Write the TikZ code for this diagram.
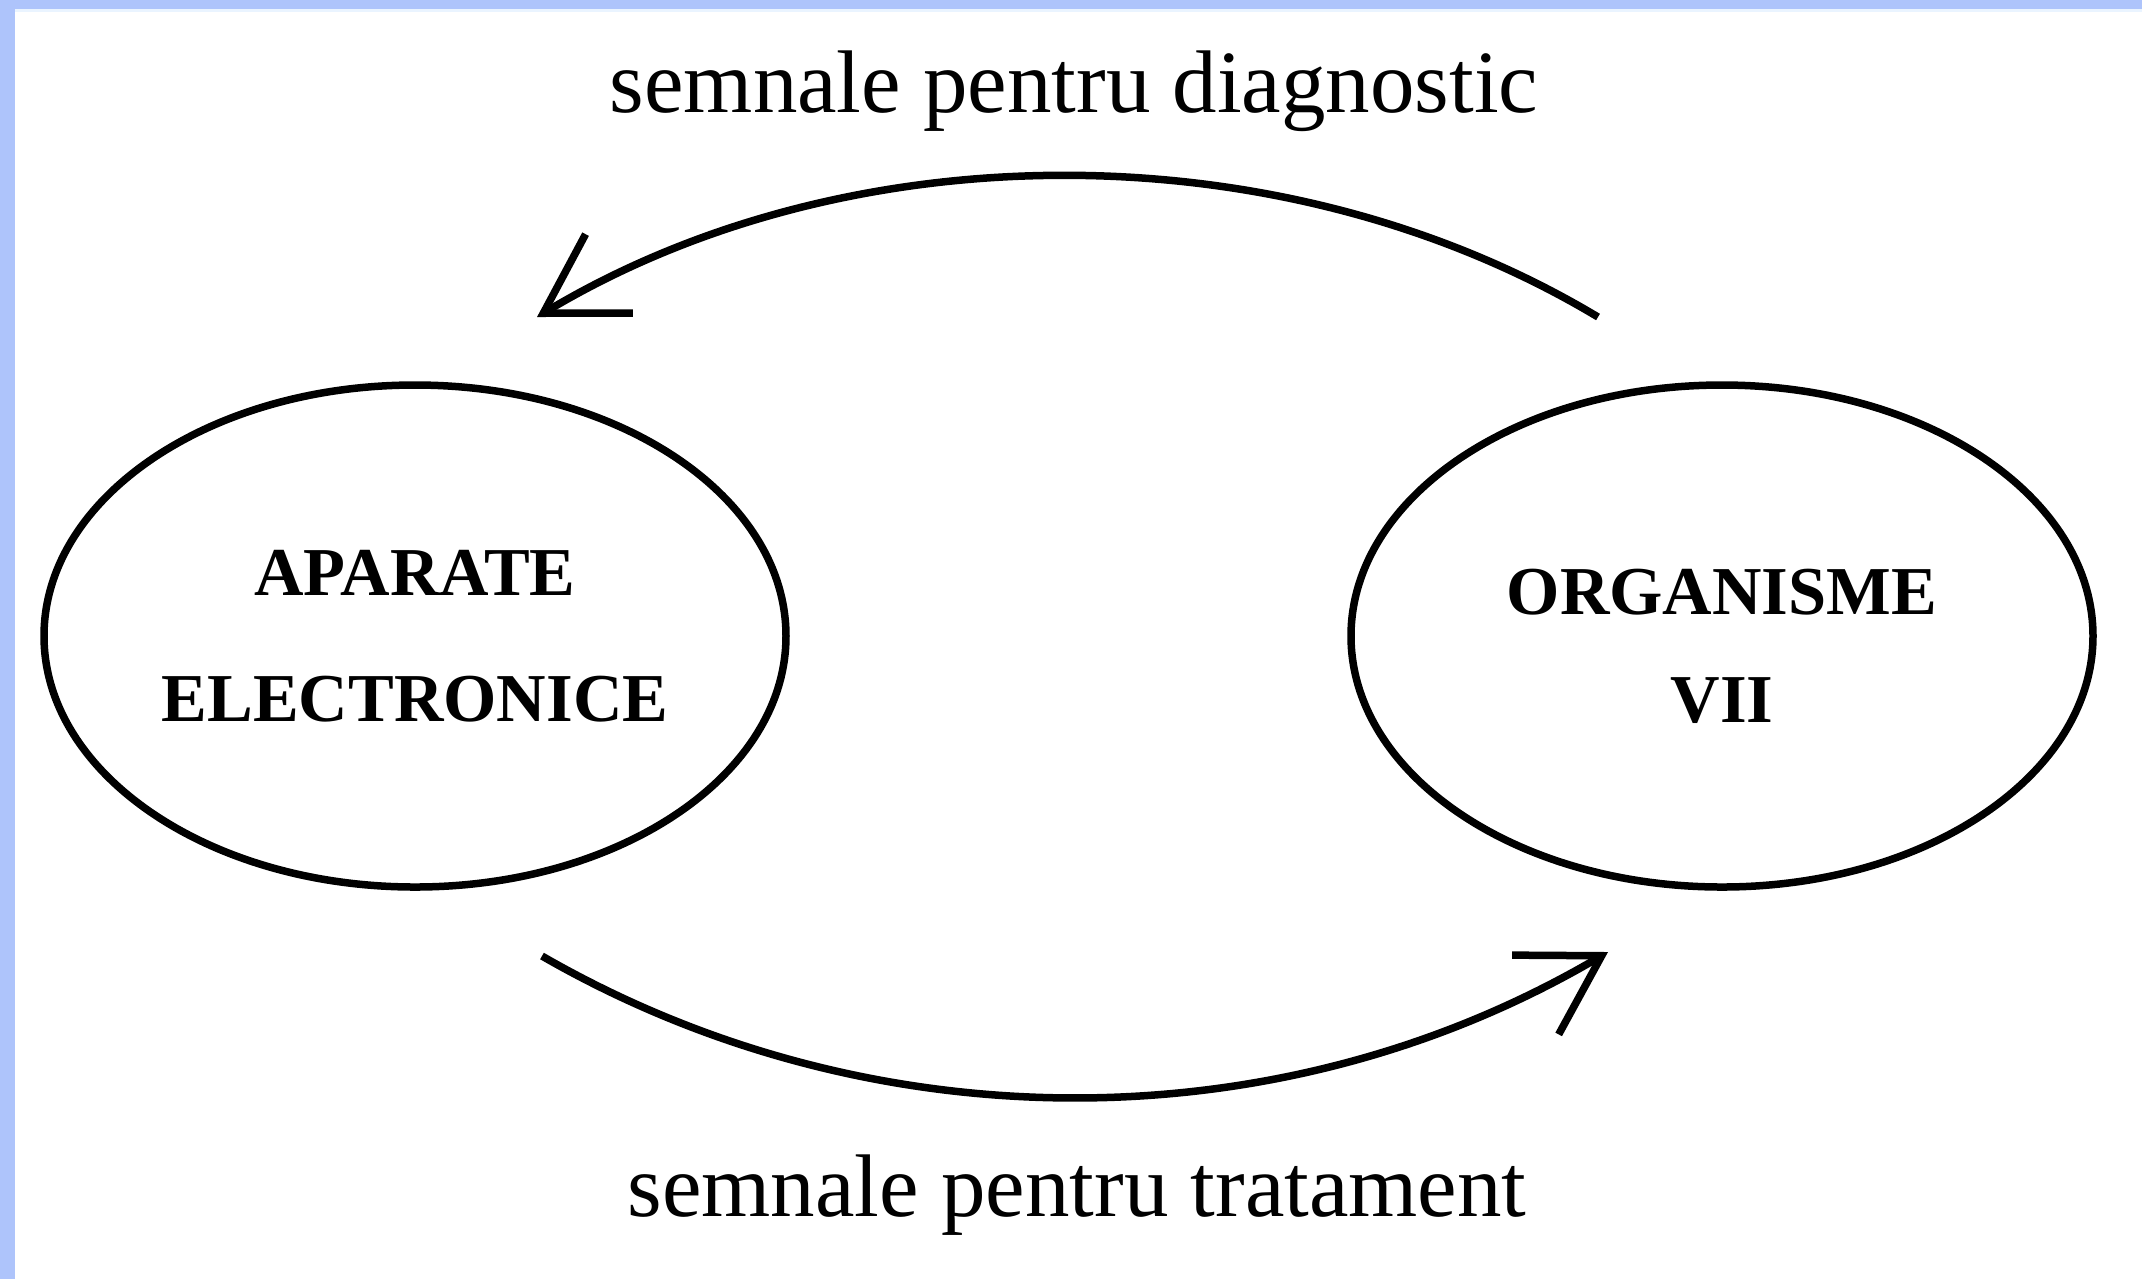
\documentclass[tikz,border=0pt]{standalone}
\usepackage{fontspec}
\setmainfont{Liberation Serif}
\usetikzlibrary{shapes.geometric, arrows.meta}
\definecolor{frameblue}{HTML}{AEC4FB}
\definecolor{framelight}{HTML}{EAF4FF}

\begin{document}
\begin{tikzpicture}[x=0.1mm, y=-0.1mm, main/.style = {draw, ellipse, line width=0.75mm, minimum width=74.2mm, minimum height=50.2mm, inner sep=0pt, align=center, font=\fontsize{19.5}{23.5}\selectfont\bfseries}, sig/.style = {-{Straight Barb[length=7.7mm, width=9.2mm]}, line width=0.75mm}, txt/.style = {anchor=base, inner sep=0pt, font=\fontsize{25.3}{30}\selectfont}]
\useasboundingbox (0,0) rectangle (2142,1279);
% frame
\fill[framelight] (15,9) rectangle (2142,12);
\fill[frameblue] (0,0) rectangle (2142,9);
\fill[frameblue] (0,0) rectangle (15,1279);
% the two sides
\node[main] (aparate) at (415,636) {APARATE\\[4.3mm]ELECTRONICE};
\node[main] (organism) at (1722,636) {\rule{0pt}{6.6mm}ORGANISME\\[2.6mm]VII};
% signals
\coordinate (d1) at (1598,317);
\coordinate (d2) at (537,317);
\coordinate (t1) at (542,956);
\coordinate (t2) at (1608,952);
\draw[sig] (d1) .. controls (1285,129) and (850,129) .. (d2);
\draw[sig] (t1) .. controls (870,1145) and (1280,1145) .. (t2);
\node[txt] (diag) at (1074,112) {semnale pentru diagnostic};
\node[txt] (trat) at (1077,1216) {semnale pentru tratament};
\end{tikzpicture}
\end{document}
